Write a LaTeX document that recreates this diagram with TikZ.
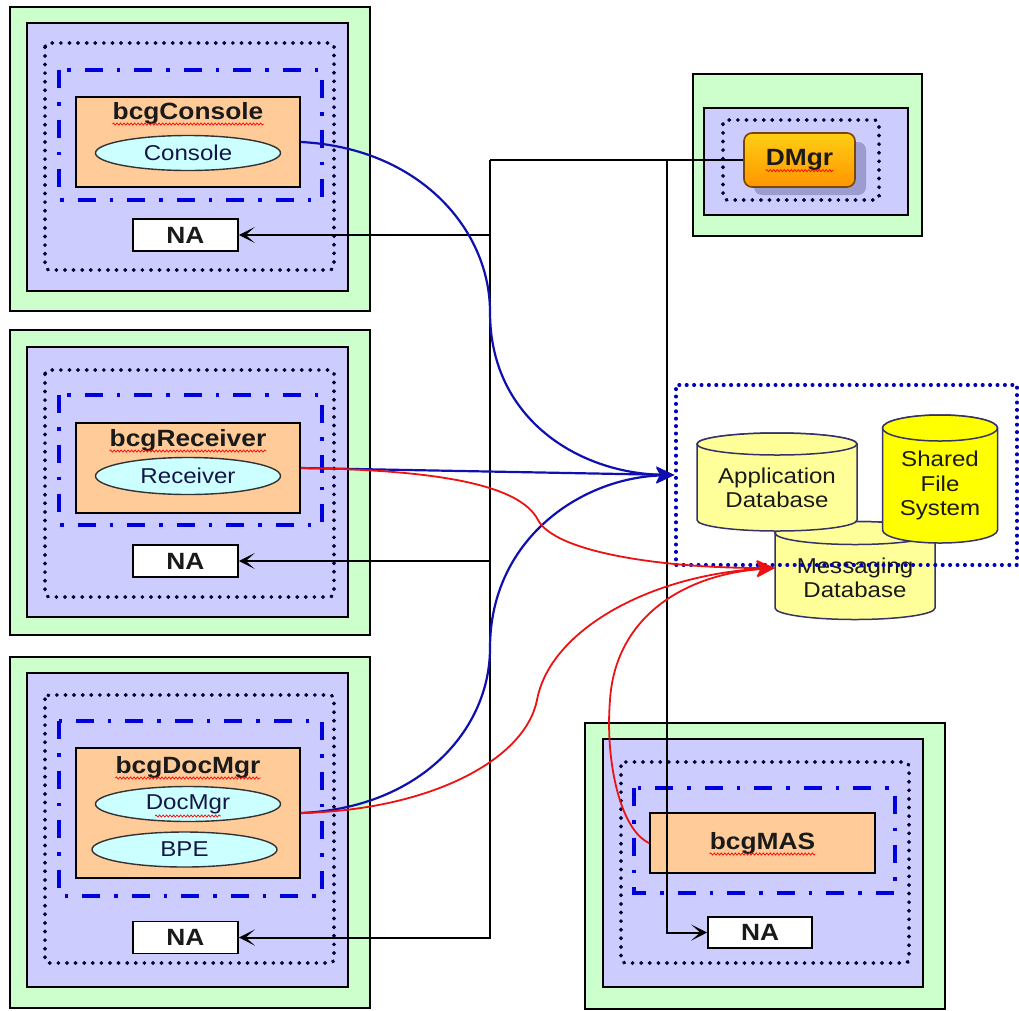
\documentclass[tikz,border=0pt]{standalone}
\usepackage{fontspec}
\setmainfont{Liberation Sans}[FakeStretch=1.12]
\usetikzlibrary{arrows.meta,decorations.pathmorphing,shapes.geometric}
\definecolor{grn}{HTML}{CCFFCC}
\definecolor{lav}{HTML}{CCCCFF}
\definecolor{org}{HTML}{FFCC99}
\definecolor{cyn}{HTML}{CCFFFF}
\definecolor{dbl}{HTML}{0000DD}
\definecolor{ylw}{HTML}{FFFF99}
\definecolor{ylwb}{HTML}{FFFF00}
\definecolor{cylln}{HTML}{333366}
\definecolor{curveblue}{HTML}{1010B0}
\definecolor{curvered}{HTML}{EE1111}
\definecolor{shad}{HTML}{9C9CD0}
\definecolor{txt}{HTML}{1A1A1A}
\newcommand\myreg{\fontsize{21.5}{24.5}\selectfont}
\newcommand\mybold{\fontsize{23.5}{26}\selectfont\bfseries}
\tikzset{
  greenbox/.style={draw=black, fill=grn, line width=1.8pt},
  lavbox/.style={draw=black, fill=lav, line width=1.8pt},
  dotbox/.style={draw=black!80!blue, line width=3.6pt, dash pattern=on 0.6pt off 8pt, line cap=round, rounded corners=4pt},
  bluedotbox/.style={draw=dbl!85!black, line width=3.4pt, dash pattern=on 0.6pt off 6.8pt, line cap=round},
  dashdotbox/.style={draw=dbl, line width=4.5pt, dash pattern=on 18pt off 14pt on 3.5pt off 14pt},
  orangebox/.style={draw=black, fill=org, line width=1.6pt, inner sep=0pt},
  proc/.style={ellipse, draw=black!80, fill=cyn, line width=1.4pt, inner sep=0pt, font=\myreg, text=txt!80!blue},
  nabox/.style={draw=black, fill=white, line width=1.6pt, inner sep=0pt, font=\mybold, text=txt, minimum width=105, minimum height=32},
  ttl/.style={inner sep=0pt, font=\mybold, text=txt},
  lbl/.style={inner sep=0pt, font=\myreg, text=txt, align=center},
  wavy/.style={draw=red, line width=0.7pt, decorate, decoration={snake, amplitude=1.1pt, segment length=3.5pt}},
  blk/.style={draw=black, line width=2pt},
  blktip/.style={-{Stealth[length=16pt,width=16pt,inset=9pt]}},
  bl/.style={draw=curveblue, line width=2.2pt, -{Stealth[length=18pt,width=16pt,inset=4pt]}},
  rd/.style={draw=curvered, line width=1.8pt, -{Stealth[length=18pt,width=16pt,inset=4pt]}},
  cylfill/.style={line width=1.5pt, draw=cylln}
}
\newcommand\mycyl[6]{% cx, topy, boty, rx, ry, fill
  \path[cylfill, fill=#6] (#1-#4,#2) -- (#1-#4,#3) arc[start angle=180, end angle=0, x radius=#4, y radius=#5] -- (#1+#4,#2) arc[start angle=0, end angle=-180, x radius=#4, y radius=#5] -- cycle;
  \path[cylfill, fill=#6] (#1,#2) ellipse[x radius=#4, y radius=#5];
}
\begin{document}
\begin{tikzpicture}[x=1pt, y=-1pt]
\useasboundingbox (0,0) rectangle (1019,1010);
\fill[white] (0,0) rectangle (1019,1010);

% ---------- Console group ----------
\path[greenbox] (10,7) rectangle (370,311);
\path[lavbox] (27,23) rectangle (348,291);
\path[dotbox] (45,43) rectangle (334,270);
\path[dashdotbox] (59,70) rectangle (322,200);
\node[orangebox, minimum width=224, minimum height=90] (cons) at (188,142) {};
\node[ttl] (t1) at (188,113) {bcgConsole};
\node[proc, minimum width=185, minimum height=35] (e1) at (188,153) {Console};
\node[nabox] (na1) at (185.5,235) {NA};

% ---------- Receiver group ----------
\path[greenbox] (10,330) rectangle (370,635);
\path[lavbox] (27,347) rectangle (348,617);
\path[dotbox] (45,370) rectangle (334,597);
\path[dashdotbox] (59,395) rectangle (322,525);
\node[orangebox, minimum width=224, minimum height=90] (recv) at (188,468) {};
\node[ttl] (t2) at (188,440) {bcgReceiver};
\node[proc, minimum width=185, minimum height=37] (e2) at (188,476) {Receiver};
\node[nabox] (na2) at (185.5,561) {NA};

% ---------- DocMgr group ----------
\path[greenbox] (10,657) rectangle (370,1008);
\path[lavbox] (27,673) rectangle (348,987);
\path[dotbox] (45,695) rectangle (334,963);
\path[dashdotbox] (59,721) rectangle (322,896);
\node[orangebox, minimum width=224, minimum height=130] (docm) at (188,813) {};
\node[ttl] (t3) at (188,767) {bcgDocMgr};
\node[proc, minimum width=185, minimum height=35] (e3) at (188,804) {DocMgr};
\node[proc, minimum width=185, minimum height=35] (e4) at (184.5,849.5) {BPE};
\node[nabox] (na3) at (185.5,937.5) {NA};

% ---------- DMgr group ----------
\path[greenbox] (693,74) rectangle (922,236);
\path[lavbox] (704,108) rectangle (908,215);
\path[dotbox] (723,120) rectangle (879,200);
\fill[shad, rounded corners=8pt] (754,142) rectangle (866,195);
\node[draw={rgb,255:red,120;green,70;blue,0}, line width=1.6pt, rounded corners=8pt,
      top color={rgb,255:red,255;green,206;blue,20}, bottom color={rgb,255:red,255;green,150;blue,0},
      minimum width=111, minimum height=54, inner sep=0pt] (dmgr) at (799.5,160) {};
\node[ttl] (t5) at (799.5,160) {DMgr};

% ---------- bcgMAS group ----------
\path[greenbox] (585,723) rectangle (945,1009);
\path[lavbox] (603,739) rectangle (923,987);
\path[dotbox] (621,762) rectangle (909,963);
\path[dashdotbox] (634,788) rectangle (895,893);
\node[orangebox, minimum width=225, minimum height=60] (mas) at (762.5,843) {};
\node[ttl] (t4) at (762.5,843) {bcgMAS};
\node[nabox, minimum width=104, minimum height=31] (na4) at (760,932.5) {NA};

% ---------- storage ----------
\mycyl{855}{533}{608}{80}{11.5}{ylw}
\node[inner sep=0pt, minimum width=160, minimum height=70] (msg) at (855,568) {};
\node[lbl] (msgt) at (855,578) {Messaging\\Database};
\mycyl{777}{444}{520}{80}{11}{ylw}
\node[lbl] (appt) at (777,488) {Application\\Database};
\mycyl{940}{428}{530}{57.5}{13}{ylwb}
\node[lbl] (sfst) at (940,485.5) {Shared\\File\\System};
\node[bluedotbox, minimum width=341, minimum height=180, inner sep=0pt] (store) at (846.5,475) {};

% ---------- spell-check squiggles ----------
\foreach \n in {t1,t2,t3,t4,t5}{
  \path[wavy] ([yshift=-5pt]\n.base west) -- ([yshift=-5pt]\n.base east);
}
\path[wavy] ([xshift=-33pt,yshift=-12pt]e3.center) -- ([xshift=33pt,yshift=-12pt]e3.center);

% ---------- black connectors ----------
\coordinate (jL) at (490,160);
\coordinate (jR) at (667,160);
\path[blk] (dmgr.west) -- (jL);
\path[blk, blktip] (jL) |- (na3.east);
\path[blk, blktip] (jL |- na1.east) -- (na1.east);
\path[blk, blktip] (jL |- na2.east) -- (na2.east);
\path[blk, blktip] (jR) |- (na4.west);

% ---------- blue connectors ----------
\path[bl] (cons.east) .. controls (420,148) and (490,230) .. (490,312) .. controls (490,420) and (580,473) .. (store.west);
\path[bl] (recv.east) -- (store.west);
\path[bl] (docm.east) .. controls (420,808) and (490,730) .. (490,648) .. controls (490,540) and (580,478) .. (store.west);

% ---------- red connectors ----------
\path[rd] (recv.east) .. controls (440,470) and (520,485) .. (538,520) .. controls (555,552) and (660,568) .. (msg.west);
\path[rd] (docm.east) .. controls (430,810) and (525,760) .. (537,700) .. controls (550,630) and (650,575) .. (msg.west);
\path[rd] (mas.west) .. controls (620,830) and (605,760) .. (610,700) .. controls (615,620) and (680,575) .. (msg.west);
\end{tikzpicture}
\end{document}
